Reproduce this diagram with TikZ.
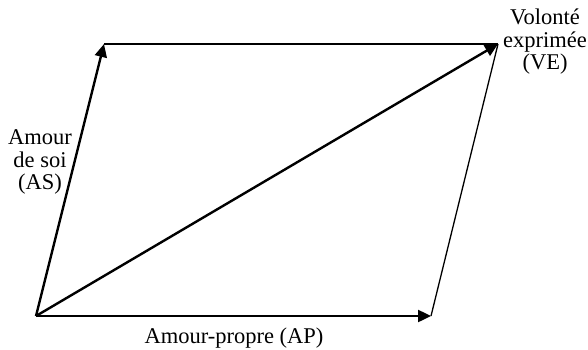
\documentclass[tikz,border=0pt]{standalone}
\usepackage{fontspec}
\setmainfont{Liberation Serif}
\usetikzlibrary{arrows.meta}
\begin{document}
\begin{tikzpicture}[x=1pt,y=-1pt,
  vec/.style={line width=2.4pt,-{Triangle[length=13pt,width=12pt]}},
  edge/.style={line width=1.3pt},
  lab/.style={align=center,inner sep=0pt,font=\fontsize{22.5}{22.5}\selectfont}]
\useasboundingbox (0,0) rectangle (588,350);
\coordinate (O) at (36,316);
\coordinate (P) at (431,316);
\coordinate (S) at (104,44);
\coordinate (V) at (498,44);
\draw[edge] (S) -- (V);
\draw[edge] (P) -- (V);
\draw[vec] (O) -- (S);
\draw[vec] (O) -- (P);
\draw[vec] (O) -- (V);
\node[lab] (las) at (40,162) {Amour\\de soi\\(AS)};
\node[lab] (lve) at (545,42) {Volonté\\exprimée\\(VE)};
\node[lab,anchor=base] (lap) at (234,343) {Amour-propre (AP)};
\end{tikzpicture}
\end{document}
